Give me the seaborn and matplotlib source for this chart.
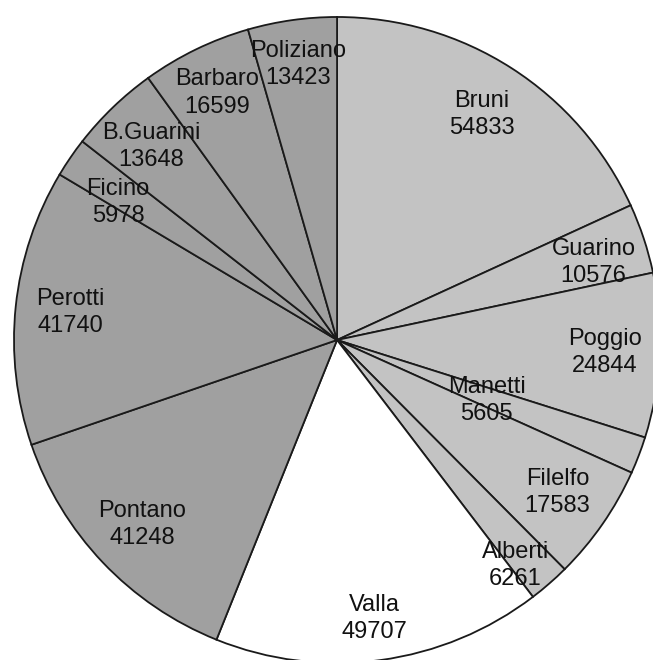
import numpy as np
import matplotlib
matplotlib.use("Agg")
import matplotlib.pyplot as plt
import seaborn as sns

# ---- data ----
names = ["Bruni", "Guarino", "Poggio", "Manetti", "Filelfo", "Alberti", "Valla",
         "Pontano", "Perotti", "Ficino", "B.Guarini", "Barbaro", "Poliziano"]
words = [54833, 10576, 24844, 5605, 17583, 6261, 49707,
         41248, 41740, 5978, 13648, 16599, 13423]
groups = ["early", "early", "early", "early", "early", "early", "valla",
          "late", "late", "late", "late", "late", "late"]

# ---- style ----
sns.set_style("white")
plt.rcParams["font.family"] = ["Liberation Sans", "DejaVu Sans"]
group_colors = {"early": "#c3c3c3", "valla": "#ffffff", "late": "#a0a0a0"}
colors = [group_colors[g] for g in groups]

# label placement (radius as fraction of pie radius, angle nudge in degrees)
label_radius = {"Manetti": 0.50, "Alberti": 0.89, "Valla": 0.87,
                "Poliziano": 0.86, "Barbaro": 0.85, "Ficino": 0.80}
label_nudge = {"Guarino": -1.5, "Alberti": -2.8, "Ficino": 2.3, "Manetti": -1.0}

fig = plt.figure(figsize=(6.53, 6.60), dpi=100)
ax = fig.add_axes([0, 0, 1, 1])
wedges, _ = ax.pie(words, colors=colors, startangle=90, counterclock=False,
                   radius=1.0,
                   wedgeprops=dict(edgecolor="#1a1a1a", linewidth=1.3))

for w, name, val in zip(wedges, names, words):
    mid = 0.5 * (w.theta1 + w.theta2) + label_nudge.get(name, 0.0)
    r = label_radius.get(name, 0.83)
    x = r * np.cos(np.deg2rad(mid))
    y = r * np.sin(np.deg2rad(mid))
    ax.text(x, y, f"{name}\n{val}", ha="center", va="center",
            fontsize=17, color="#111111", linespacing=1.3)

ax.set_aspect("auto")
ax.set_xlim(-1.0433, 0.978)
ax.set_ylim(-0.9907, 1.0526)
ax.axis("off")
fig.savefig("out.png", dpi=100, facecolor="white")
